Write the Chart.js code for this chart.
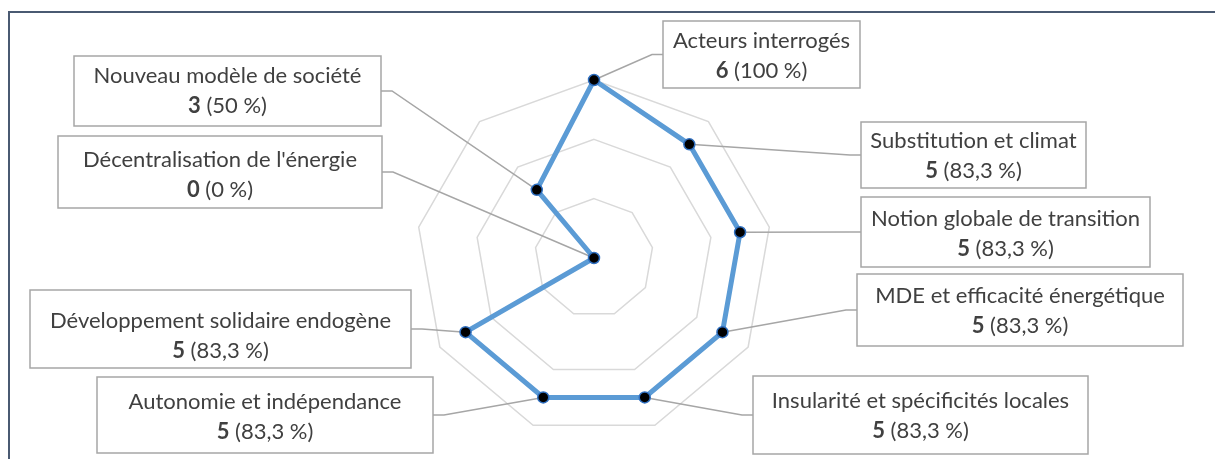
<!DOCTYPE html>
<html>
<head>
<meta charset="utf-8">
<script src="https://cdn.jsdelivr.net/npm/chart.js@4.4.1/dist/chart.umd.min.js"></script>
<style>
  body { margin: 0; background: #ffffff; }
  #radar { display: block; }
</style>
</head>
<body>
<canvas id="radar" width="1215" height="459"></canvas>
<script>
// donnees
var categories = [
  'Acteurs interrogés',
  'Substitution et climat',
  'Notion globale de transition',
  'MDE et efficacité énergétique',
  'Insularité et spécificités locales',
  'Autonomie et indépendance',
  'Développement solidaire endogène',
  "Décentralisation de l'énergie",
  'Nouveau modèle de société'
];
var counts = [6, 5, 5, 5, 5, 5, 5, 0, 3];
var percents = ['100 %', '83,3 %', '83,3 %', '83,3 %', '83,3 %', '83,3 %', '83,3 %', '0 %', '50 %'];
var tickValues = [0, 2, 4, 6];

// emplacement des etiquettes (x, y, largeur, hauteur, ligne de base 1)
var boxes = [
  [663, 21, 197, 67, 48],
  [861, 122, 225, 66, 148],
  [861, 197, 289, 70, 226],
  [857, 274, 326, 72, 303],
  [753, 376, 335, 78, 408],
  [97, 377, 336, 76, 409],
  [30, 290, 381, 78, 328],
  [58, 136, 324, 72, 167],
  [74, 56, 307, 70, 83]
];

var blue = '#5b9bd5';
var textColor = '#404040';
var boxColor = '#a6a6a6';
var fontName = 'Lato';

var labelPlugin = {
  id: 'calloutLabels',
  beforeDatasetsDraw: function(chart) {
    var ctx = chart.ctx;
    var pts = chart.getDatasetMeta(0).data;
    ctx.save();
    ctx.strokeStyle = boxColor;
    ctx.lineWidth = 1.5;
    for (var i = 0; i < boxes.length; i++) {
      var b = boxes[i];
      var p = pts[i];
      var midY = b[1] + b[3] / 2;
      var ax, sx;
      if (b[0] + b[2] / 2 > p.x) { ax = b[0]; sx = b[0] - 11; }
      else { ax = b[0] + b[2]; sx = ax + 11; }
      ctx.beginPath();
      ctx.moveTo(ax, midY);
      ctx.lineTo(sx, midY);
      ctx.lineTo(p.x, p.y);
      ctx.stroke();
    }
    ctx.restore();
  },
  afterDraw: function(chart) {
    var ctx = chart.ctx;
    ctx.save();
    // cadre
    ctx.strokeStyle = '#4a5a72';
    ctx.lineWidth = 2;
    ctx.strokeRect(9, 12, 1240, 480);

    for (var i = 0; i < boxes.length; i++) {
      var b = boxes[i];
      ctx.fillStyle = '#ffffff';
      ctx.fillRect(b[0], b[1], b[2], b[3]);
      ctx.strokeStyle = boxColor;
      ctx.lineWidth = 1.5;
      ctx.strokeRect(b[0], b[1], b[2], b[3]);

      var cx = b[0] + b[2] / 2;
      ctx.fillStyle = textColor;
      ctx.textBaseline = 'alphabetic';
      ctx.textAlign = 'center';
      ctx.font = '22px ' + fontName;
      ctx.fillText(categories[i], cx, b[4]);

      // deuxieme ligne : valeur en gras + pourcentage
      var num = String(counts[i]);
      var rest = ' (' + percents[i] + ')';
      ctx.font = 'bold 22px ' + fontName;
      var w1 = ctx.measureText(num).width;
      ctx.font = '22px ' + fontName;
      var w2 = ctx.measureText(rest).width;
      var x0 = cx - (w1 + w2) / 2;
      ctx.textAlign = 'left';
      ctx.font = 'bold 22px ' + fontName;
      ctx.fillText(num, x0, b[4] + 30);
      ctx.font = '22px ' + fontName;
      ctx.fillText(rest, x0 + w1, b[4] + 30);
    }
    ctx.restore();
  }
};

var config = {
  type: 'radar',
  data: {
    labels: categories,
    datasets: [{
      label: 'Acteurs',
      data: counts,
      borderColor: blue,
      borderWidth: 5,
      backgroundColor: 'rgba(0,0,0,0)',
      fill: false,
      pointRadius: 5.5,
      pointBorderWidth: 1.5,
      pointBackgroundColor: '#000000',
      pointBorderColor: '#2f6fc0'
    }]
  },
  options: {
    responsive: false,
    animation: false,
    events: [],
    layout: { padding: { left: 416, right: 443, top: 80, bottom: 23 } },
    plugins: { legend: { display: false }, tooltip: { enabled: false } },
    scales: {
      r: {
        min: tickValues[0],
        max: tickValues[tickValues.length - 1],
        ticks: { stepSize: tickValues[1] - tickValues[0], display: false },
        pointLabels: { display: false },
        angleLines: { display: false },
        grid: { color: '#d9d9d9', lineWidth: 1.5, circular: false }
      }
    }
  },
  plugins: [labelPlugin]
};

new Chart(document.getElementById('radar'), config);
</script>
</body>
</html>
